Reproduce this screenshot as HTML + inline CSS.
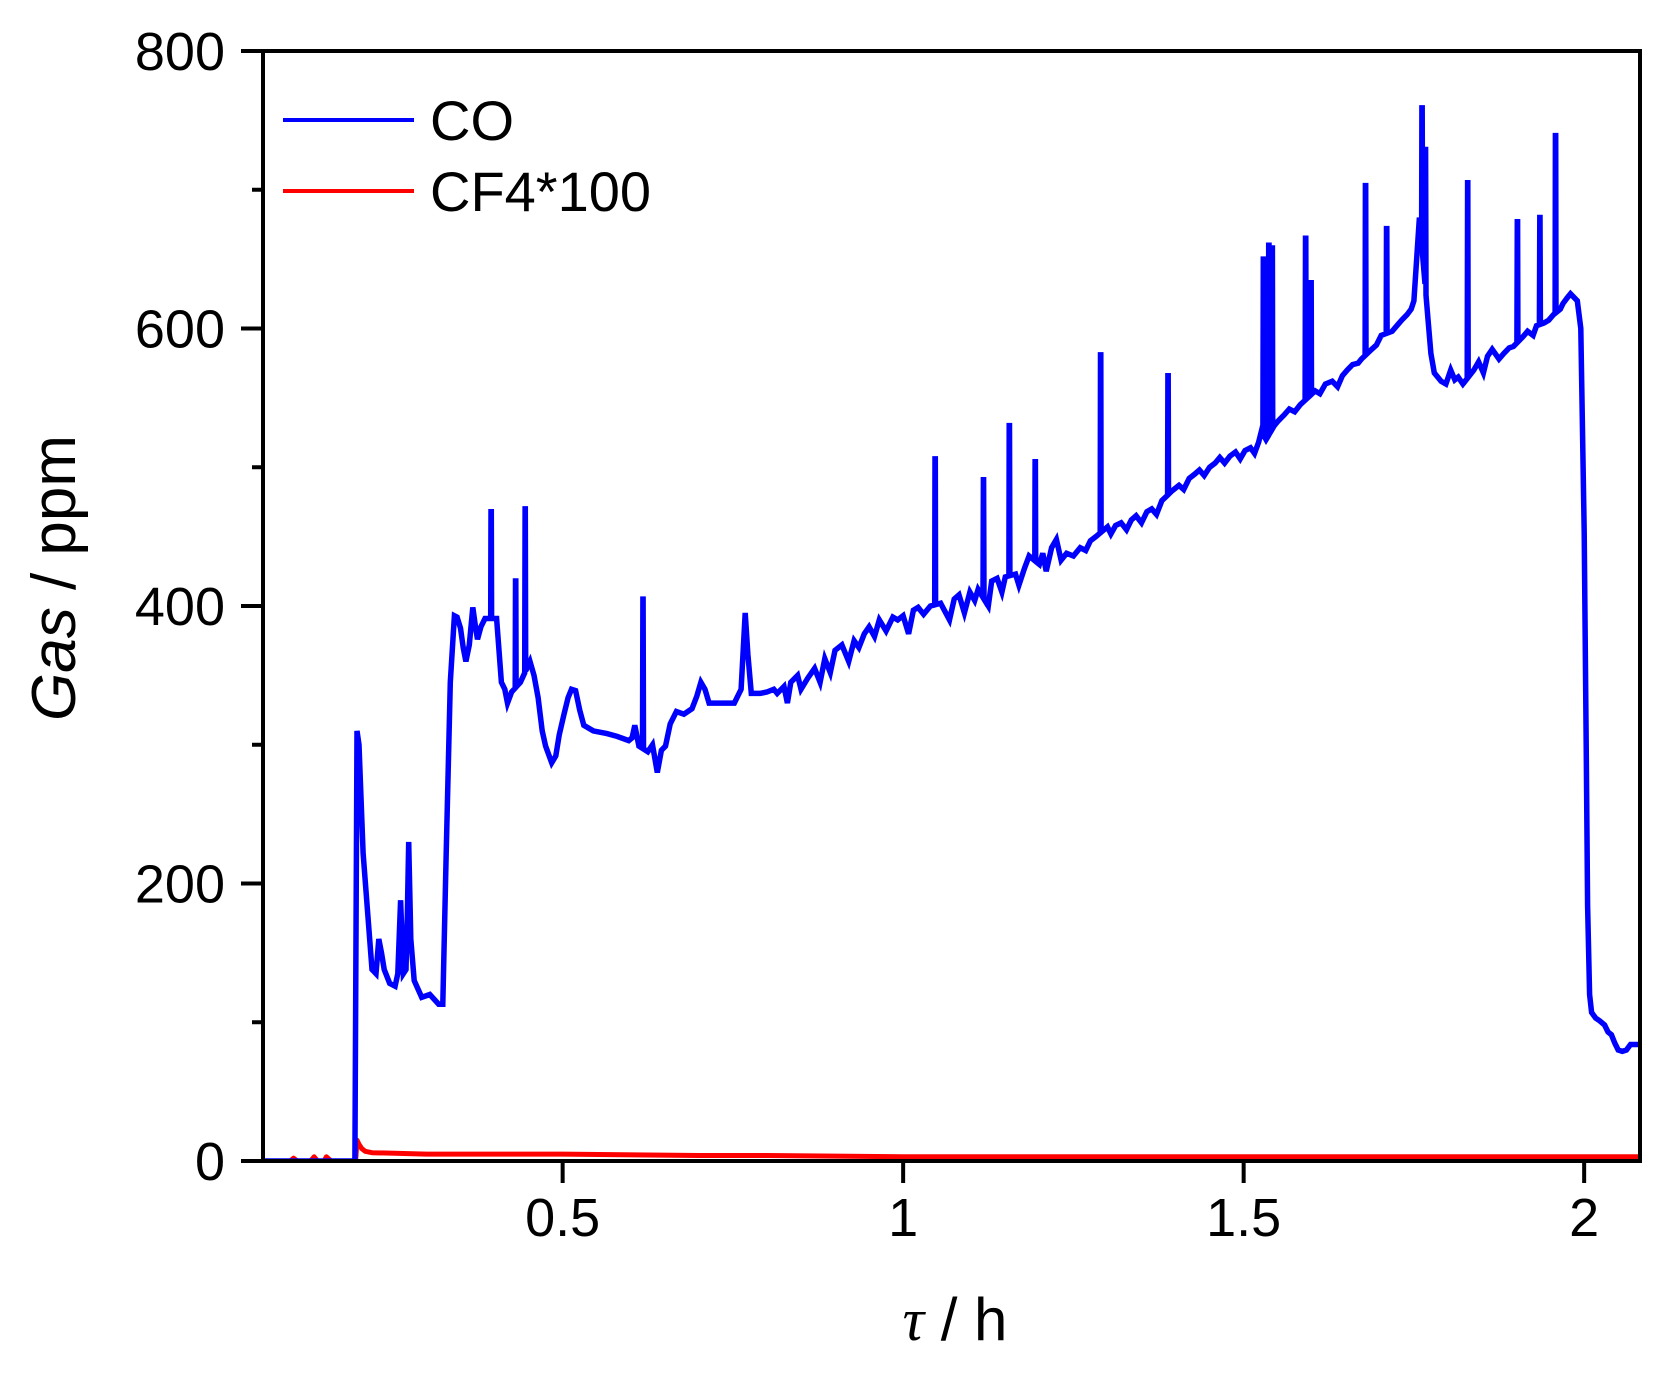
<!DOCTYPE html>
<html><head><meta charset="utf-8"><style>
html,body{margin:0;padding:0;background:#fff;}
svg{display:block;font-family:"Liberation Sans",Arial,sans-serif;}
</style></head><body>
<svg id="chart" width="1670" height="1375" viewBox="0 0 1670 1375" xmlns="http://www.w3.org/2000/svg">
<rect width="1670" height="1375" fill="#fff"/>
<defs><clipPath id="plotclip"><rect x="263" y="51" width="1377" height="1110"/></clipPath></defs>
<g id="series" clip-path="url(#plotclip)"></g>
<g id="axes"></g>
<g>
<line x1="283" y1="120" x2="414" y2="120" stroke="#0000ff" stroke-width="4"/>
<text x="430" y="140" font-size="56">CO</text>
<line x1="283" y1="191" x2="414" y2="191" stroke="#ff0000" stroke-width="4"/>
<text x="430" y="211" font-size="56">CF4*100</text>
</g>
<text x="955" y="1340" font-size="60" text-anchor="middle"><tspan font-family="Liberation Serif,serif" font-style="italic">τ</tspan> / h</text>
<text transform="translate(75,578) rotate(-90)" font-size="62" text-anchor="middle"><tspan font-style="italic">Gas</tspan> / ppm</text>
</svg>
<script>
const xTicks = [0.5, 1, 1.5, 2];
const xTickLabels = ["0.5", "1", "1.5", "2"];
const yTicks = [0, 200, 400, 600, 800];
const yTickLabels = ["0", "200", "400", "600", "800"];
const yMinorTicks = [100, 300, 500, 700];
const coX = [
0.06,0.19,0.195,0.198,0.201,0.207,0.215,0.22,0.226,0.23,
0.234,0.238,0.246,0.254,0.258,0.262,0.266,0.27,0.272,0.274,
0.277,0.282,0.293,0.305,0.318,0.324,0.329,0.335,0.341,0.345,
0.35,0.354,0.358,0.363,0.368,0.372,0.375,0.38,0.386,0.393,
0.403,0.41,0.415,0.419,0.425,0.438,0.452,0.458,0.464,0.47,
0.475,0.484,0.49,0.495,0.502,0.508,0.513,0.519,0.525,0.531,
0.545,0.565,0.58,0.597,0.602,0.606,0.612,0.625,0.632,0.639,
0.645,0.651,0.658,0.667,0.678,0.69,0.697,0.703,0.709,0.715,
0.73,0.752,0.762,0.768,0.772,0.777,0.79,0.8,0.81,0.815,
0.825,0.83,0.835,0.845,0.85,0.86,0.87,0.878,0.885,0.893,
0.9,0.91,0.92,0.928,0.935,0.943,0.95,0.958,0.965,0.975,
0.985,0.992,1.0,1.008,1.015,1.022,1.03,1.04,1.055,1.068,
1.075,1.082,1.09,1.098,1.105,1.11,1.125,1.13,1.138,1.145,
1.15,1.165,1.17,1.178,1.185,1.2,1.205,1.21,1.218,1.225,
1.232,1.24,1.25,1.26,1.268,1.275,1.283,1.3,1.305,1.312,
1.32,1.328,1.335,1.342,1.35,1.358,1.365,1.372,1.38,1.395,
1.405,1.412,1.42,1.428,1.435,1.442,1.45,1.458,1.465,1.472,
1.48,1.488,1.495,1.502,1.51,1.516,1.522,1.526,1.533,1.545,
1.55,1.56,1.567,1.575,1.583,1.605,1.612,1.62,1.63,1.638,
1.645,1.652,1.66,1.668,1.673,1.688,1.695,1.702,1.718,1.725,
1.732,1.74,1.746,1.75,1.758,1.771,1.775,1.78,1.79,1.797,
1.804,1.81,1.815,1.822,1.838,1.845,1.852,1.858,1.865,1.875,
1.882,1.89,1.896,1.91,1.917,1.925,1.93,1.941,1.948,1.955,
1.965,1.969,1.975,1.98,1.99,1.995,2.0,2.003,2.005,2.008,
2.011,2.017,2.023,2.03,2.035,2.04,2.045,2.05,2.056,2.062,
2.068,2.073,2.082];
const coY = [
0,0,0,310,300,222,170,138,135,160,
150,138,128,126,135,188,135,138,180,230,
160,130,118,120,113,113,222,345,393,392,
384,370,360,372,399,385,376,385,391,391,
391,345,340,330,338,345,360,350,334,310,
299,287,292,307,322,334,340,339,325,314,
310,308,306,303,305,314,299,295,300,280,
296,299,315,324,322,326,335,345,340,330,
330,330,340,395,365,337,337,338,340,337,
342,330,345,350,340,348,355,345,362,352,
368,372,360,375,370,380,385,378,390,382,
392,390,393,380,397,399,394,400,402,390,
405,408,395,410,404,412,400,418,420,410,
421,423,415,427,436,430,438,425,442,448,
433,438,436,442,440,447,450,457,452,458,
460,455,462,465,460,468,470,466,476,483,
487,484,492,495,498,494,500,503,507,503,
508,511,506,512,514,510,518,526,520,530,
533,538,542,540,545,555,553,560,562,558,
566,570,574,575,578,585,588,595,598,602,
606,610,614,620,680,605,582,568,562,560,
570,563,565,560,570,576,568,580,585,578,
582,586,587,594,598,595,602,604,606,610,
614,618,622,625,620,600,453,300,184,120,
107,103,101,98,93,91,85,80,79,80,
84,84,84];
const spikeX = [0.395,0.431,0.445,0.618,1.047,1.118,1.156,1.194,1.29,1.389,1.529,1.537,1.542,1.591,1.599,1.679,1.71,1.762,1.767,1.829,1.902,1.935,1.958];
const spikeY = [468,418,470,405,506,491,530,504,581,566,650,660,658,665,633,703,672,759,729,705,677,680,739];
const cfX = [0.06,0.1,0.105,0.11,0.13,0.135,0.14,0.15,0.153,0.16,0.19,0.196,0.198,0.201,0.205,0.21,0.22,0.3,0.5,0.7,0.8,1.0,1.3,1.6,2.0,2.082];
const cfY = [0,0,2,0,0,3,0,0,3,0,0,0,15,12,9,7,6,5,5,4,4,3,3,3,3,3];

const X0 = 263, X1 = 1640, Y0 = 1161, Y1 = 51;
const XMIN = 0.06, XMAX = 2.082, YMIN = 0, YMAX = 800;
const sx = v => X0 + (v - XMIN) / (XMAX - XMIN) * (X1 - X0);
const sy = v => Y0 - (v - YMIN) / (YMAX - YMIN) * (Y0 - Y1);
const NS = "http://www.w3.org/2000/svg";
const mk = (tag, attrs, parent) => { const e = document.createElementNS(NS, tag); for (const k in attrs) e.setAttribute(k, attrs[k]); parent.appendChild(e); return e; };

function baseAt(x) {
  for (let i = 1; i < coX.length; i++) {
    if (coX[i] >= x) { const t = (x - coX[i-1]) / (coX[i] - coX[i-1]); return coY[i-1] + t * (coY[i] - coY[i-1]); }
  }
  return coY[coY.length - 1];
}
let pts = coX.map((x, i) => [x, coY[i]]);
spikeX.forEach((x, i) => {
  pts.push([x - 0.0007, baseAt(x - 0.0007)]);
  pts.push([x - 0.0002, spikeY[i]]);
  pts.push([x + 0.0002, spikeY[i]]);
  pts.push([x + 0.0007, baseAt(x + 0.0007)]);
});
pts.sort((a, b) => a[0] - b[0]);

const series = document.getElementById('series');
const cf = mk('polyline', {points: cfX.map((x,i)=>sx(x).toFixed(1)+','+sy(cfY[i]).toFixed(1)).join(' '), fill:'none', stroke:'#ff0000', 'stroke-width':5, 'stroke-linejoin':'round'}, series);


const co = mk('polyline', {points: pts.map(p=>sx(p[0]).toFixed(1)+','+sy(p[1]).toFixed(1)).join(' '), fill:'none', stroke:'#0000ff', 'stroke-width':5.5, 'stroke-linejoin':'miter'}, series);



const axes = document.getElementById('axes');
const frame = mk('rect', {x:X0, y:Y1, width:X1-X0, height:Y0-Y1, fill:'none', stroke:'#000', 'stroke-width':4}, axes);


xTicks.forEach((v,i) => {
  const t = mk('line', {x1:sx(v), x2:sx(v), y1:Y0, y2:Y0+22, stroke:'#000', 'stroke-width':4}, axes);
  
  
  const l = mk('text', {x:sx(v), y:1236, 'font-size':54, 'text-anchor':'middle'}, axes);
  l.textContent = xTickLabels[i];
  
  
});
yTicks.forEach((v,i) => {
  const t = mk('line', {x1:X0-22, x2:X0, y1:sy(v), y2:sy(v), stroke:'#000', 'stroke-width':4}, axes);
  
  
  const l = mk('text', {x:225, y:sy(v)+19, 'font-size':54, 'text-anchor':'end'}, axes);
  l.textContent = yTickLabels[i];
  
  
});
yMinorTicks.forEach(v => {
  const t = mk('line', {x1:X0-11, x2:X0, y1:sy(v), y2:sy(v), stroke:'#000', 'stroke-width':4}, axes);
  
  
});
</script>
</body></html>
